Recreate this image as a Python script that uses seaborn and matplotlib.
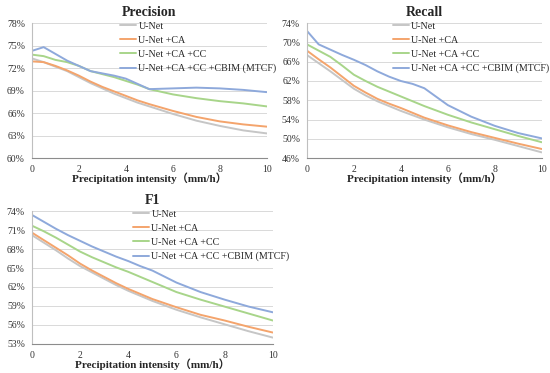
import matplotlib
matplotlib.use("Agg")
import matplotlib.pyplot as plt
import pandas as pd
import seaborn as sns

# rain intensity (mm/h)
intensity = [0, 0.5, 1, 1.5, 2, 2.5, 3, 3.5, 4, 4.5, 5, 6, 7, 8, 9, 10]
models = ["U-Net", "U-Net +CA", "U-Net +CA +CC", "U-Net +CA +CC +CBIM (MTCF)"]
colors = ["#C6C6C6", "#F4A46C", "#A8D58A", "#8EA9DB"]

precision = {
    "U-Net": [73.3, 72.8, 72.2, 71.6, 70.8, 70.0, 69.3, 68.6, 68.0, 67.4, 66.9, 65.9, 65.0, 64.3, 63.7, 63.3],
    "U-Net +CA": [72.9, 72.8, 72.3, 71.7, 71.0, 70.2, 69.5, 68.9, 68.3, 67.7, 67.2, 66.3, 65.5, 64.9, 64.5, 64.2],
    "U-Net +CA +CC": [73.8, 73.6, 73.1, 72.8, 72.3, 71.6, 71.2, 70.8, 70.3, 69.8, 69.2, 68.5, 68.0, 67.6, 67.3, 66.9],
    "U-Net +CA +CC +CBIM (MTCF)": [74.3, 74.8, 73.9, 73.0, 72.3, 71.6, 71.3, 71.0, 70.6, 69.9, 69.2, 69.3, 69.4, 69.3, 69.1, 68.8],
}
recall = {
    "U-Net": [67.4, 65.7, 64.0, 62.2, 60.4, 59.0, 57.8, 56.8, 55.8, 54.9, 54.0, 52.4, 51.0, 49.8, 48.5, 47.2],
    "U-Net +CA": [68.3, 66.5, 64.8, 62.9, 61.0, 59.6, 58.3, 57.3, 56.4, 55.4, 54.4, 52.8, 51.4, 50.2, 49.0, 47.9],
    "U-Net +CA +CC": [69.6, 68.3, 67.0, 65.2, 63.3, 62.0, 60.8, 59.8, 58.8, 57.8, 56.8, 55.0, 53.4, 52.0, 50.6, 49.3],
    "U-Net +CA +CC +CBIM (MTCF)": [72.4, 69.6, 68.5, 67.4, 66.4, 65.3, 64.0, 62.9, 62.0, 61.4, 60.5, 57.0, 54.6, 52.7, 51.2, 50.1],
}
f1 = {
    "U-Net": [70.2, 69.0, 67.8, 66.5, 65.3, 64.3, 63.3, 62.3, 61.4, 60.6, 59.8, 58.4, 57.2, 56.1, 55.0, 54.0],
    "U-Net +CA": [70.6, 69.4, 68.2, 67.0, 65.7, 64.6, 63.6, 62.6, 61.7, 60.9, 60.1, 58.8, 57.6, 56.7, 55.7, 54.8],
    "U-Net +CA +CC": [71.7, 70.8, 69.8, 68.7, 67.6, 66.7, 65.9, 65.1, 64.4, 63.6, 62.8, 61.2, 60.0, 58.9, 57.8, 56.7],
    "U-Net +CA +CC +CBIM (MTCF)": [73.4, 72.3, 71.2, 70.2, 69.3, 68.4, 67.6, 66.8, 66.1, 65.3, 64.6, 62.7, 61.2, 60.0, 58.9, 58.0],
}

prec_ticks = [60, 63, 66, 69, 72, 75, 78]
rec_ticks = [46, 50, 54, 58, 62, 66, 70, 74]
f1_ticks = [53, 56, 59, 62, 65, 68, 71, 74]
x_ticks = [0, 2, 4, 6, 8, 10]


def to_long(values: dict) -> pd.DataFrame:
    rows = []
    for m in models:
        for x, v in zip(intensity, values[m]):
            rows.append({"x": x, "value": v, "model": m})
    return pd.DataFrame(rows)


def draw_panel(ax, values, title, yticks, legend_x):
    sns.lineplot(data=to_long(values), x="x", y="value", hue="model",
                 hue_order=models, palette=colors, linewidth=1.4, ax=ax)
    ax.set_xlim(0, 10)
    ax.set_ylim(yticks[0], yticks[-1])
    ax.set_yticks(yticks)
    ax.set_yticklabels([f"{t}%" for t in yticks])
    ax.set_xticks(x_ticks)
    ax.grid(axis="y", color="#D9D9D9", linewidth=0.7)
    ax.grid(axis="x", visible=False)
    for side in ["top", "right"]:
        ax.spines[side].set_visible(False)
    ax.spines["left"].set_color("#BFBFBF")
    ax.spines["bottom"].set_color("#8C8C8C")
    ax.spines["left"].set_linewidth(0.8)
    ax.spines["bottom"].set_linewidth(0.8)
    ax.tick_params(axis="both", length=0, labelsize=7, colors="#333333")
    ax.tick_params(axis="x", pad=5)
    ax.tick_params(axis="y", pad=5)
    ax.set_title(title, fontsize=10, fontweight="bold", pad=5)
    ax.set_xlabel("Precipitation intensity（mm/h）", fontsize=8, fontweight="bold",
                  family=["Liberation Serif", "Noto Sans CJK SC"], labelpad=-1)
    ax.set_ylabel("")
    leg = ax.legend(loc="upper left", bbox_to_anchor=(legend_x, 1.04), frameon=False,
                    fontsize=7.2, handlelength=1.6, handletextpad=0.2,
                    labelspacing=0.5, borderaxespad=0)
    for line in leg.get_lines():
        line.set_linewidth(1.4)


sns.set_theme(style="whitegrid")
plt.rcParams["font.family"] = ["Liberation Serif", "DejaVu Serif"]

fig = plt.figure(figsize=(5.5, 3.73), dpi=100)
ax1 = fig.add_axes([0.058, 0.576, 0.427, 0.362])
ax2 = fig.add_axes([0.558, 0.576, 0.427, 0.362])
ax3 = fig.add_axes([0.058, 0.078, 0.438, 0.356])

draw_panel(ax1, precision, "Precision", prec_ticks, 0.36)
draw_panel(ax2, recall, "Recall", rec_ticks, 0.35)
draw_panel(ax3, f1, "F1", f1_ticks, 0.405)

fig.savefig("out.png", dpi=100)
